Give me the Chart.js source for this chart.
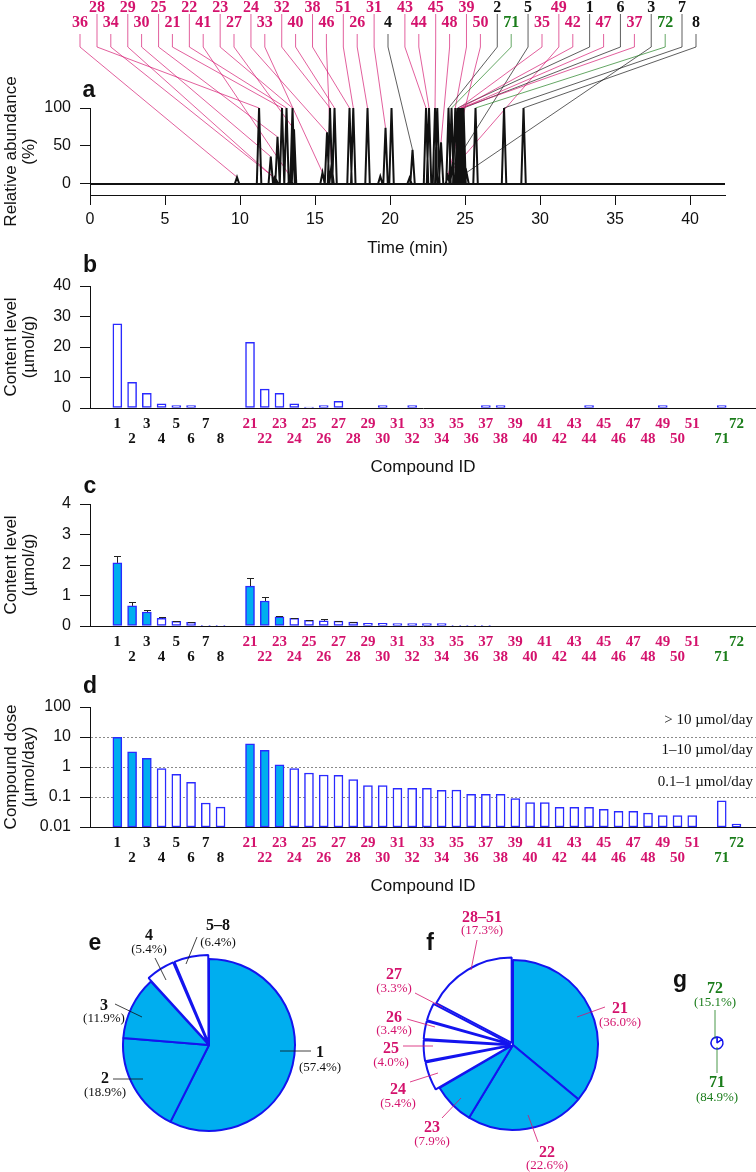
<!DOCTYPE html>
<html><head><meta charset="utf-8">
<script src="https://cdn.jsdelivr.net/npm/chart.js@4.4.1/dist/chart.umd.min.js"></script>
<style>
html,body{margin:0;padding:0;background:#fff;}
#wrap{position:relative;width:756px;height:1172px;overflow:hidden;background:#fff;}
canvas{position:absolute;}
#ann{position:absolute;left:0;top:0;}
</style></head><body>
<div id="wrap">
<canvas id="cA" width="756" height="260" style="left:0;top:0;width:756px;height:260px"></canvas>
<canvas id="cB" width="756" height="230" style="left:0;top:255px;width:756px;height:230px"></canvas>
<canvas id="cC" width="756" height="230" style="left:0;top:475px;width:756px;height:230px"></canvas>
<canvas id="cD" width="756" height="210" style="left:0;top:690px;width:756px;height:210px"></canvas>
<canvas id="cE" width="220" height="220" style="left:99px;top:935px;width:220px;height:220px"></canvas>
<canvas id="cF" width="220" height="220" style="left:403px;top:935px;width:220px;height:220px"></canvas>
<canvas id="cG" width="40" height="40" style="left:697px;top:1023px;width:40px;height:40px"></canvas>
<svg id="ann" width="756" height="1172" xmlns="http://www.w3.org/2000/svg"></svg>
</div>
<script>
// ================= DATA =================
const groupA = [1, 2, 3, 4, 5, 6, 7, 8];
const groupB = [21, 22, 23, 24, 25, 26, 27, 28, 29, 30, 31, 32, 33, 34, 35, 36, 37, 38, 39, 40, 41, 42, 43, 44, 45, 46, 47, 48, 49, 50, 51];
const groupC = [71, 72];

// panel b: content level (µmol/g)
const contentB_A = [27.6, 8.4, 4.8, 1.4, 0.8, 0.8, 0, 0];
const contentB_B = [21.5, 6.2, 4.8, 1.4, 0.3, 0.8, 2.2, 0, 0, 0.8, 0, 0.8, 0, 0, 0, 0, 0.8, 0.8, 0, 0, 0, 0, 0, 0.8, 0, 0, 0, 0, 0.8, 0, 0];
const contentB_C = [0.8, 0];

// panel c: content level (µmol/g) with SD
const contentC_A = [2.07, 0.66, 0.46, 0.25, 0.15, 0.12, 0.02, 0.02];
const contentC_B = [1.31, 0.82, 0.30, 0.25, 0.19, 0.17, 0.16, 0.13, 0.09, 0.09, 0.08, 0.08, 0.08, 0.08, 0.02, 0.02, 0.02, 0, 0, 0, 0, 0, 0, 0, 0, 0, 0, 0, 0, 0, 0];
const contentC_C = [0, 0];
const errC_A = [0.23, 0.13, 0.07, 0.05, 0.01, 0.01, 0, 0];
const errC_B = [0.27, 0.14, 0.02, 0.02, 0.01, 0.06, 0.01, 0.01, 0, 0, 0, 0, 0, 0, 0, 0, 0, 0, 0, 0, 0, 0, 0, 0, 0, 0, 0, 0, 0, 0, 0];
const errC_C = [0, 0];

// panel d: compound dose (µmol/day)
const doseD_A = [9.8, 3.2, 1.95, 0.88, 0.57, 0.31, 0.063, 0.046];
const doseD_B = [5.9, 3.6, 1.17, 0.88, 0.63, 0.54, 0.53, 0.38, 0.24, 0.24, 0.195, 0.195, 0.195, 0.167, 0.17, 0.123, 0.123, 0.123, 0.088, 0.065, 0.065, 0.045, 0.045, 0.045, 0.039, 0.033, 0.033, 0.029, 0.024, 0.024, 0.024];
const doseD_C = [0.075, 0.0125];

// pies
const pieELabels = ['1', '2', '3', '4', '5–8'];
const pieEValues = [57.4, 18.9, 11.9, 5.4, 6.4];
const pieFLabels = ['21', '22', '23', '24', '25', '26', '27', '28–51'];
const pieFValues = [36.0, 22.6, 7.9, 5.4, 4.0, 3.4, 3.3, 17.3];
const pieGLabels = ['72', '71'];
const pieGValues = [15.1, 84.9];

// panel a: chromatogram peaks (retention time, min ; relative abundance, %)
const peakTimes = [9.8, 11.27, 12.05, 12.3, 12.4, 12.5, 12.8, 13.1, 13.35, 13.5, 13.6, 15.5, 15.8, 16.0, 16.1, 16.3, 17.3, 17.55, 18.5, 19.35, 19.7, 20.1, 21.3, 21.5, 22.4, 22.6, 23.0, 23.15, 23.4, 23.85, 23.9, 24.1, 24.15, 24.35, 24.5, 24.6, 24.7, 24.75, 24.8, 24.9, 25.1, 25.7, 27.6, 28.9];
const peakHeights = [9, 100, 36, 8, 6, 62, 100, 100, 10, 100, 72, 15, 68, 100, 25, 100, 100, 100, 100, 10, 74, 100, 8, 45, 100, 100, 100, 100, 55, 10, 100, 100, 22, 100, 100, 100, 100, 100, 100, 100, 15, 100, 100, 100];
const timeTicks = [0, 5, 10, 15, 20, 25, 30, 35, 40];
const abundanceTicks = [0, 50, 100];

// compound labels above the chromatogram and the peak each one points to
const topRow1 = [28, 29, 25, 22, 23, 24, 32, 38, 51, 31, 43, 45, 39, 2, 5, 49, 1, 6, 3, 7];
const rtRow1 = [11.27, 12.4, 12.5, 13.1, 13.5, 15.8, 16.0, 17.3, 17.55, 19.7, 22.4, 23.0, 24.35, 23.9, 24.15, 23.85, 24.5, 24.9, 25.1, 27.6];
const hRow1 = [100, 6, 62, 100, 100, 68, 100, 100, 100, 74, 100, 100, 100, 100, 22, 12, 100, 100, 15, 100];
const topRow2 = [36, 34, 30, 21, 41, 27, 33, 40, 46, 26, 4, 44, 48, 50, 71, 35, 42, 47, 37, 72, 8];
const rtRow2 = [9.8, 12.3, 12.05, 12.8, 13.35, 13.6, 15.5, 16.3, 16.1, 18.5, 21.5, 22.6, 23.4, 23.85, 24.1, 24.6, 24.7, 24.8, 24.75, 25.7, 28.9];
const hRow2 = [9, 8, 36, 100, 10, 72, 15, 100, 25, 100, 45, 100, 55, 10, 100, 100, 100, 100, 100, 100, 100];

const contentTicksB = [0, 10, 20, 30, 40];
const contentTicksC = [0, 1, 2, 3, 4];
const doseTicks = [0.01, 0.1, 1, 10, 100];
const doseBands = [0.1, 1, 10];
const doseBandLabels = ['> 10 µmol/day', '1–10 µmol/day', '0.1–1 µmol/day'];

// ================= STYLE =================
const INK = '#111', MAGENTA = '#d4136d', GREEN = '#1b7d1b', BLUE = '#2a2aff', PIEBLUE = '#1414ee', CYAN = '#00aeef';
const filledIds = [1, 2, 3, 21, 22, 23];
const PW = 0.15; // peak half width (min)
Chart.defaults.animation = false;
Chart.defaults.font.family = 'Liberation Sans';
Chart.defaults.color = INK;

const compoundIds = [...groupA, ...groupB, ...groupC];
const slotIds = [...groupA, null, ...groupB, null, ...groupC];
// tick-label row: first label of groups A and B on the upper row, group C starts on the lower row
const lowerRow = new Set([
  ...groupA.filter((id, i) => i % 2 === 1),
  ...groupB.filter((id, i) => i % 2 === 1),
  ...groupC.filter((id, i) => i % 2 === 0)
]);
const slotOf = id => slotIds.indexOf(id);
const colorOf = id => id == null ? INK : (id <= 8 ? INK : (id >= 71 ? GREEN : MAGENTA));
const contentB = [...contentB_A, ...contentB_B, ...contentB_C];
const contentC = [...contentC_A, ...contentC_B, ...contentC_C];
const errC = [...errC_A, ...errC_B, ...errC_C];
const doseD = [...doseD_A, ...doseD_B, ...doseD_C];

// ================= PANEL A =================
const rows = [
  {ids: topRow1, rt: rtRow1, h: hRow1, x0: 97, dx: 30.79, yStart: 14, base: 12},
  {ids: topRow2, rt: rtRow2, h: hRow2, x0: 80, dx: 30.8, yStart: 34, base: 27}
];
const peakLinks = {
  id: 'peakLinks',
  beforeDatasetsDraw(chart) {
    const {ctx, scales: {x, y}} = chart;
    ctx.save();
    ctx.lineWidth = 0.8;
    rows.forEach(row => row.ids.forEach((id, i) => {
      const lx = row.x0 + row.dx * i;
      ctx.strokeStyle = colorOf(id);
      ctx.globalAlpha = 0.85;
      ctx.beginPath();
      ctx.moveTo(lx, row.yStart);
      ctx.lineTo(lx, 47);
      ctx.lineTo(x.getPixelForValue(row.rt[i]), y.getPixelForValue(row.h[i]));
      ctx.stroke();
    }));
    ctx.restore();
  }
};
const trace = [];
peakTimes.forEach((t, i) => {
  trace.push({x: t - PW, y: 0}, {x: t, y: peakHeights[i]}, {x: t + PW, y: 0}, {x: t + PW, y: null});
});
new Chart(document.getElementById('cA'), {
  type: 'scatter',
  data: {datasets: [
    {data: [{x: 0, y: 0}, {x: 42.33, y: 0}], showLine: true, borderColor: INK, borderWidth: 2, pointRadius: 0, clip: false},
    {data: trace, showLine: true, borderColor: INK, borderWidth: 2, pointRadius: 0, clip: false, spanGaps: false}
  ]},
  options: {
    responsive: false,
    layout: {padding: {top: 108, right: 31, left: 0, bottom: 0}},
    plugins: {legend: {display: false}, tooltip: {enabled: false}},
    scales: {
      x: {type: 'linear', min: 0, max: 42.33,
        afterBuildTicks: s => { s.ticks = timeTicks.map(v => ({value: v})); },
        ticks: {padding: 5, font: {size: 16, lineHeight: 1.2}, color: INK, maxRotation: 0, autoSkip: false},
        grid: {drawOnChartArea: false, tickLength: 10, tickColor: INK, color: INK},
        border: {color: INK, width: 1},
        title: {display: true, text: 'Time (min)', font: {size: 17, lineHeight: 1.2}, padding: {top: 0, bottom: 1.8}, color: INK},
        afterFit: s => { s.height = 65; s.paddingLeft = 0; s.paddingRight = 0; }
      },
      y: {type: 'linear', min: -14.5, max: 100,
        afterBuildTicks: s => { s.ticks = abundanceTicks.map(v => ({value: v})); },
        ticks: {padding: 9, font: {size: 16}, color: INK},
        grid: {drawOnChartArea: false, tickLength: 10, tickColor: INK, color: INK},
        border: {color: INK, width: 1},
        title: {display: true, text: ['Relative abundance', '(%)'], font: {size: 17, lineHeight: 1.1}, padding: {top: 1.6, bottom: 0}, color: INK},
        afterFit: s => { s.width = 90; s.paddingTop = 0; s.paddingBottom = 0; }
      }
    }
  },
  plugins: [peakLinks]
});

// ================= BAR PANELS =================
function xSlotScale(titleText, titlePad, boxHeight) {
  return {
    type: 'linear', min: -1.33, max: 42.8,
    afterBuildTicks: s => { s.ticks = slotIds.map((id, i) => ({value: i})); },
    ticks: {
      autoSkip: false, maxRotation: 0, minRotation: 0, padding: 8.5,
      font: {family: 'Liberation Serif', weight: 'bold', size: 15, lineHeight: 1},
      color: c => colorOf(slotIds[c.tick ? c.tick.value : c.index]),
      callback: (v) => { const id = slotIds[v]; if (id == null) return ''; return lowerRow.has(id) ? ['', String(id)] : String(id); }
    },
    grid: {display: false, drawTicks: false},
    border: {display: true, color: INK, width: 1},
    title: {display: !!titleText, text: titleText || '', font: {size: 17, lineHeight: 1.2}, padding: {top: 0, bottom: titlePad}, color: INK},
    afterFit: s => { s.height = boxHeight; s.paddingLeft = 0; s.paddingRight = 0; }
  };
}
function barData(values) {
  const out = [];
  compoundIds.forEach((id, k) => { const v = values[k]; if (v > 0) out.push({x: slotOf(id), y: v, id: id}); });
  return out;
}
function barDataset(values, useFill) {
  return {
    data: barData(values),
    backgroundColor: c => (useFill && c.raw && filledIds.includes(c.raw.id)) ? CYAN : '#ffffff',
    borderColor: BLUE, borderWidth: 1.5, borderSkipped: false, barThickness: 9
  };
}
function yTitle(lines) {
  return {display: true, text: lines, font: {size: 17, lineHeight: 1.1}, padding: {top: 1.6, bottom: 0}, color: INK};
}

// panel b
new Chart(document.getElementById('cB'), {
  type: 'bar',
  data: {datasets: [barDataset(contentB, false)]},
  options: {
    responsive: false,
    layout: {padding: {top: 31, right: 0, left: 0, bottom: 0}},
    plugins: {legend: {display: false}, tooltip: {enabled: false}},
    scales: {
      x: xSlotScale('Compound ID', 7.8, 77),
      y: {type: 'linear', min: 0, max: 40,
        afterBuildTicks: s => { s.ticks = contentTicksB.map(v => ({value: v})); },
        ticks: {padding: 9, font: {size: 16}, color: INK},
        grid: {drawOnChartArea: false, tickLength: 10, tickColor: INK, color: INK},
        border: {color: INK, width: 1},
        title: yTitle(['Content level', '(µmol/g)']),
        afterFit: s => { s.width = 90; s.paddingTop = 0; s.paddingBottom = 0; }
      }
    }
  }
});

// panel c
const errBars = {
  id: 'errBars',
  afterDatasetsDraw(chart) {
    const {ctx, scales: {x, y}} = chart;
    ctx.save();
    ctx.strokeStyle = '#222';
    ctx.lineWidth = 1;
    compoundIds.forEach((id, k) => {
      const e = errC[k];
      if (!(e > 0) || !(contentC[k] > 0)) return;
      const px = Math.round(x.getPixelForValue(slotOf(id))) + 0.5;
      const y0 = y.getPixelForValue(contentC[k]);
      const y1 = Math.round(y.getPixelForValue(contentC[k] + e)) + 0.5;
      ctx.beginPath();
      ctx.moveTo(px, y0); ctx.lineTo(px, y1);
      ctx.moveTo(px - 3.5, y1); ctx.lineTo(px + 3.5, y1);
      ctx.stroke();
    });
    ctx.restore();
  }
};
new Chart(document.getElementById('cC'), {
  type: 'bar',
  data: {datasets: [barDataset(contentC, true)]},
  options: {
    responsive: false,
    layout: {padding: {top: 29, right: 0, left: 0, bottom: 0}},
    plugins: {legend: {display: false}, tooltip: {enabled: false}},
    scales: {
      x: xSlotScale(null, 0, 79),
      y: {type: 'linear', min: 0, max: 4,
        afterBuildTicks: s => { s.ticks = contentTicksC.map(v => ({value: v})); },
        ticks: {padding: 9, font: {size: 16}, color: INK},
        grid: {drawOnChartArea: false, tickLength: 10, tickColor: INK, color: INK},
        border: {color: INK, width: 1},
        title: yTitle(['Content level', '(µmol/g)']),
        afterFit: s => { s.width = 90; s.paddingTop = 0; s.paddingBottom = 0; }
      }
    }
  },
  plugins: [errBars]
});

// panel d
new Chart(document.getElementById('cD'), {
  type: 'bar',
  data: {datasets: [barDataset(doseD, true)]},
  options: {
    responsive: false,
    layout: {padding: {top: 17, right: 0, left: 0, bottom: 0}},
    plugins: {legend: {display: false}, tooltip: {enabled: false}},
    scales: {
      x: xSlotScale('Compound ID', 3.3, 73),
      y: {type: 'logarithmic', min: 0.01, max: 100,
        afterBuildTicks: s => { s.ticks = doseTicks.map(v => ({value: v})); },
        ticks: {padding: 9, font: {size: 16}, color: INK, callback: v => String(v)},
        grid: {drawOnChartArea: true, tickLength: 10, tickColor: INK, lineWidth: 1,
          color: c => (c.tick && doseBands.includes(c.tick.value)) ? '#8a8a8a' : 'rgba(0,0,0,0)'},
        border: {color: INK, width: 1, dash: [2, 2]},
        title: yTitle(['Compound dose', '(µmol/day)']),
        afterFit: s => { s.width = 90; s.paddingTop = 0; s.paddingBottom = 0; }
      }
    }
  }
});

// ================= PIES =================
function pie(canvasId, labels, values, fills, offsets, radius, bw) {
  new Chart(document.getElementById(canvasId), {
    type: 'pie',
    data: {labels: labels, datasets: [{data: values, backgroundColor: fills, borderColor: PIEBLUE, borderWidth: bw, offset: offsets}]},
    options: {responsive: false, radius: radius, layout: {padding: 0},
      plugins: {legend: {display: false}, tooltip: {enabled: false}}}
  });
}
pie('cE', pieELabels, pieEValues, [CYAN, CYAN, CYAN, '#fff', '#fff'], [0, 0, 0, 10, 10], 86, 2);
pie('cF', pieFLabels, pieFValues, [CYAN, CYAN, CYAN, '#fff', '#fff', '#fff', '#fff', '#fff'], [0, 0, 0, 10, 10, 10, 10, 10], 85, 2);
pie('cG', pieGLabels, pieGValues, ['#fff', '#fff'], [0, 0], 6, 1.5);

// ================= ANNOTATIONS (SVG text) =================
const NS = 'http://www.w3.org/2000/svg';
const svg = document.getElementById('ann');
function txt(x, y, s, o) {
  o = o || {};
  const t = document.createElementNS(NS, 'text');
  t.setAttribute('x', x); t.setAttribute('y', y);
  t.setAttribute('text-anchor', o.anchor || 'middle');
  t.setAttribute('font-family', o.family || 'Liberation Serif');
  t.setAttribute('font-size', o.size || 14);
  t.setAttribute('font-weight', o.weight || 'normal');
  t.setAttribute('fill', o.fill || INK);
  t.textContent = s;
  svg.appendChild(t);
}
function ln(x1, y1, x2, y2, stroke, w) {
  const l = document.createElementNS(NS, 'line');
  l.setAttribute('x1', x1); l.setAttribute('y1', y1); l.setAttribute('x2', x2); l.setAttribute('y2', y2);
  l.setAttribute('stroke', stroke); l.setAttribute('stroke-width', w || 0.8);
  svg.appendChild(l);
}
// top compound labels
rows.forEach(row => row.ids.forEach((id, i) => {
  txt(row.x0 + row.dx * i, row.base, String(id), {size: 16, weight: 'bold', fill: colorOf(id)});
}));
// panel letters
const letter = {family: 'Liberation Sans', size: 23, weight: 'bold', fill: INK};
txt(89, 97, 'a', letter);
txt(90, 272, 'b', letter);
txt(90, 493, 'c', letter);
txt(90, 693, 'd', letter);
txt(95, 950, 'e', letter);
txt(430, 950, 'f', letter);
txt(680, 987, 'g', letter);
// dose band labels
[724, 754, 786].forEach((y, i) => txt(753, y, doseBandLabels[i], {anchor: 'end', size: 15, fill: INK}));

// pie labels: [x, idBaseline, pctBaseline, leader x1,y1,x2,y2]
const pieELayout = [[320, 1057, 1071, 280, 1051, 311, 1051], [105, 1083, 1096, 113, 1079, 143, 1079], [104, 1010, 1022, 115, 1004, 142, 1017], [149, 940, 953, 155, 958, 166, 980], [218, 930, 946, 197, 937, 186, 964]];
const pieFLayout = [[620, 1013, 1026, 577, 1017, 605, 1007], [547, 1157, 1169, 528, 1115, 538, 1142], [432, 1132, 1145, 461, 1098, 442, 1118], [398, 1094, 1107, 438, 1073, 410, 1082], [391, 1053, 1066, 403, 1046, 433, 1046], [394, 1022, 1034, 407, 1019, 435, 1027], [394, 979, 992, 415, 993, 442, 1007], [482, 922, 934, 477, 940, 471, 970]];
const pieGLayout = [[715, 993, 1006, 715, 1010, 715, 1039], [717, 1087, 1101, 717, 1047, 717, 1073]];
function pieLabels(labels, values, layout, color) {
  labels.forEach((lab, i) => {
    const L = layout[i];
    ln(L[3], L[4], L[5], L[6], color, 0.8);
    txt(L[0], L[1], lab, {size: 16, weight: 'bold', fill: color});
    txt(L[0], L[2], '(' + values[i].toFixed(1) + '%)', {size: 13, fill: color});
  });
}
pieLabels(pieELabels, pieEValues, pieELayout, INK);
pieLabels(pieFLabels, pieFValues, pieFLayout, MAGENTA);
pieLabels(pieGLabels, pieGValues, pieGLayout, GREEN);
</script>
</body></html>
